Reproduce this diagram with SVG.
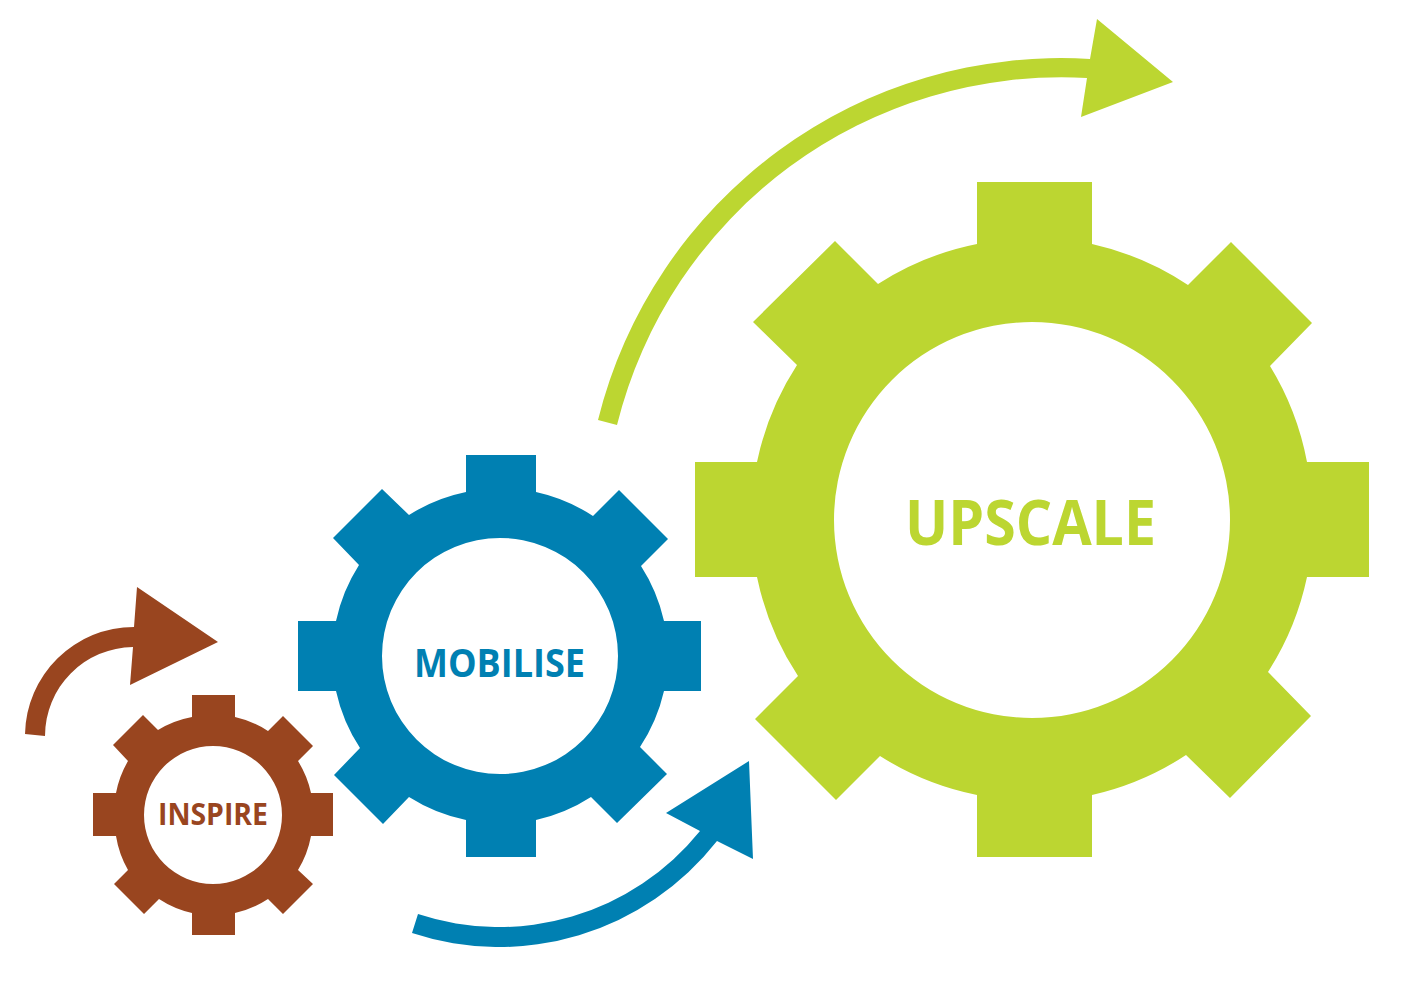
<svg xmlns="http://www.w3.org/2000/svg" width="1402" height="988" viewBox="0 0 1402 988">
<style>
.gear{fill-rule:evenodd}
.label{font-family:"Open Sans","Lato","Liberation Sans",sans-serif;font-weight:700;text-anchor:start}
.brown{fill:#99451f}.blue{fill:#0080b2}.green{fill:#bcd631}
</style>
<rect width="1402" height="988" fill="#ffffff"/>
<g id="connectors">
<path id="arrow-inspire" class="brown" d="M25 734A109 109 0 0 1 134 627L137 587L218 642L130 685L133 647A89 89 0 0 0 45 736Z"/>
<path id="arrow-mobilise" class="blue" d="M418 914A258 258 0 0 0 700 831L666 813L749 761L753 859L717 841A277 277 0 0 1 412 933Z"/>
<path id="arrow-upscale" class="green" d="M598 420A477 477 0 0 1 1090 59L1097 19L1173 82L1081 117L1087 78A458 458 0 0 0 617 425Z"/>
</g>
<g id="node-inspire">
<path class="gear brown" d="M192 695H235V717A100 100 0 0 1 268 731L283 716L313 746L298 761A100 100 0 0 1 311 793H333V836H311A100 100 0 0 1 298 870L313 884L283 914L268 899A100 100 0 0 1 235 913V935H192V913A100 100 0 0 1 159 899L144 914L114 884L128 870A100 100 0 0 1 116 836H93V793H116A100 100 0 0 1 128 761L113 745L143 715L158 730A100 100 0 0 1 192 717ZM282 815A69 69 0 1 0 144 815A69 69 0 1 0 282 815Z"/>
<text class="label brown" x="158" y="825" font-size="31" textLength="110" lengthAdjust="spacingAndGlyphs">INSPIRE</text>
</g>
<g id="node-mobilise">
<path class="gear blue" d="M466 455H536V492A170 170 0 0 1 593 516L619 490L668 539L641 566A170 170 0 0 1 664 621H701V691H664A170 170 0 0 1 640 747L667 774L617 823L591 797A170 170 0 0 1 536 820V857H466V820A170 170 0 0 1 409 797L383 824L334 775L360 748A170 170 0 0 1 336 691H298V621H336A170 170 0 0 1 359 565L333 538L382 489L409 515A170 170 0 0 1 466 492ZM618 656A118 118 0 1 0 382 656A118 118 0 1 0 618 656Z"/>
<text class="label blue" x="414" y="677" font-size="40" textLength="171" lengthAdjust="spacingAndGlyphs">MOBILISE</text>
</g>
<g id="node-upscale">
<path class="gear green" d="M977 182H1092V244A285 285 0 0 1 1188 285L1231 242L1312 323L1270 366A285 285 0 0 1 1307 462H1369V577H1307A285 285 0 0 1 1268 672L1311 716L1230 798L1186 755A285 285 0 0 1 1092 795V857H977V795A285 285 0 0 1 880 756L836 800L755 719L798 676A285 285 0 0 1 757 577H695V462H757A285 285 0 0 1 797 365L753 322L835 241L878 284A285 285 0 0 1 977 244ZM1230 520A198 198 0 1 0 834 520A198 198 0 1 0 1230 520Z"/>
<text class="label green" x="905" y="545" font-size="62" textLength="251" lengthAdjust="spacingAndGlyphs">UPSCALE</text>
</g>
</svg>
